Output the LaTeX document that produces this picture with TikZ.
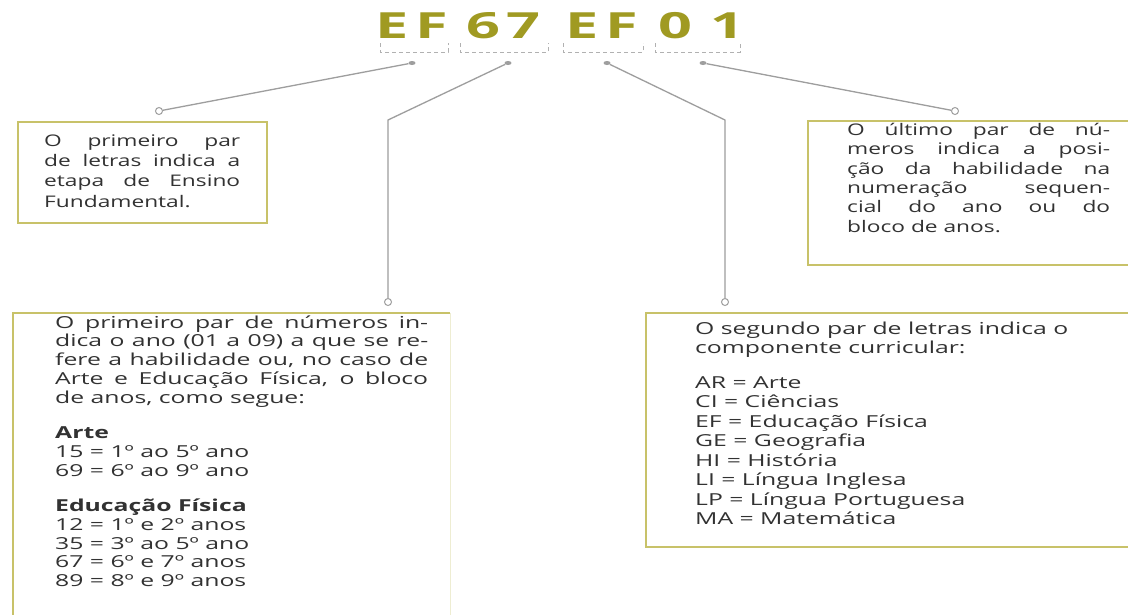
\documentclass[tikz,border=0pt]{standalone}
\usepackage{fontspec}
\usetikzlibrary{shapes.geometric}
\setmainfont{Open Sans}
\newfontfamily\topfont[FakeStretch=1.42]{Open Sans}
\newfontfamily\botfont[FakeStretch=1.5]{Open Sans}
\newfontfamily\titlefont[FakeStretch=1.65]{Open Sans}
\definecolor{titlec}{RGB}{160,154,34}
\definecolor{boxc}{RGB}{200,194,105}
\definecolor{connc}{RGB}{158,158,158}
\definecolor{textc}{RGB}{50,50,50}
\newcommand{\jline}[2]{\makebox[#1][s]{#2}}
\newcommand{\topstrut}{\rule{0pt}{14pt}}
\begin{document}
\begin{tikzpicture}[x=1pt,y=-1pt,
  box/.style={draw=boxc, line width=1.8pt, fill=white},
  conn/.style={draw=connc, line width=1.3pt},
  brk/.style={draw=connc!80, line width=1pt, dash pattern=on 4pt off 3pt},
  endc/.style={circle, draw=connc, fill=white, line width=1pt, inner sep=0pt, minimum size=7pt},
  dotc/.style={ellipse, fill=connc, inner sep=0pt, minimum width=7pt, minimum height=4pt},
  txt/.style={anchor=north west, inner sep=0pt, align=left, text=textc},
  titlech/.style={anchor=base, inner sep=0pt, text=titlec, font=\titlefont\bfseries\fontsize{36}{40}\selectfont}]
\useasboundingbox (0,0) rectangle (1128,614);
\fill[white] (0,0) rectangle (1128,614);
% boxes
\path[box] (18,122) rectangle (267,223);
\path[box] (808,121) rectangle (1132,265);
\path[fill=white] (13,313) rectangle (450,625);
\draw[boxc, line width=1.8pt] (13,625) -- (13,313) -- (450,313);
\draw[boxc!30, line width=1pt] (450,313) -- (450,625);
\path[box] (646,313) rectangle (1132,547);
% title
\foreach \ch/\xx in {E/392,F/432,6/483,7/523,E/582,F/622,0/675,1/727}
  \node[titlech] (t\xx) at (\xx,38) {\ch};
\draw[brk] (380,43) -- (380,52) -- (448,52) -- (448,43);
\draw[brk] (460,43) -- (460,52) -- (548,52) -- (548,43);
\draw[brk] (563,43) -- (563,52) -- (643,52) -- (643,43);
\draw[brk] (655,43) -- (655,52) -- (740,52) -- (740,43);
% connector dots and ends
\node[dotc] (d1) at (412,63) {};
\node[dotc] (d2) at (508,63) {};
\node[dotc] (d3) at (607,63) {};
\node[dotc] (d4) at (703,63) {};
\coordinate (b2) at (388,120);
\coordinate (b3) at (725,120);
\node[endc] (e1) at (159,111) {};
\node[endc] (e2) at (388,302) {};
\node[endc] (e3) at (725,302) {};
\node[endc] (e4) at (955,111) {};
\draw[conn] (d1) -- (e1);
\draw[conn] (d2) -- (b2) -- (e2);
\draw[conn] (d3) -- (b3) -- (e3);
\draw[conn] (d4) -- (e4);
% texts (first baseline = anchor y + 14)
\node[txt, font=\topfont\fontsize{16}{20.3}\selectfont] (tl) at (44,132) {%
\topstrut\jline{196pt}{O primeiro par}\\
\jline{196pt}{de letras indica a}\\
\jline{196pt}{etapa de Ensino}\\
Fundamental.};
\node[txt, font=\topfont\fontsize{16}{19.4}\selectfont] (tr) at (847,121) {%
\topstrut\jline{263pt}{O último par de nú-}\\
\jline{263pt}{meros indica a posi-}\\
\jline{263pt}{ção da habilidade na}\\
\jline{263pt}{numeração sequen-}\\
\jline{263pt}{cial do ano ou do}\\
bloco de anos.};
\node[txt, font=\botfont\fontsize{16.5}{18.7}\selectfont] (bl) at (55,314) {%
\topstrut\jline{373pt}{O primeiro par de números in-}\\
\jline{373pt}{dica o ano (01 a 09) a que se re-}\\
\jline{373pt}{fere a habilidade ou, no caso de}\\
\jline{373pt}{Arte e Educação Física, o bloco}\\
de anos, como segue:\\[17pt]
{\bfseries Arte}\\
15 = 1º ao 5º ano\\
69 = 6º ao 9º ano\\[17pt]
{\bfseries Educação Física}\\
12 = 1º e 2º anos\\
35 = 3º ao 5º ano\\
67 = 6º e 7º anos\\
89 = 8º e 9º anos};
\node[txt, font=\botfont\fontsize{16.5}{19.5}\selectfont] (br) at (695,320) {%
\topstrut O segundo par de letras indica o\\
componente curricular:\\[15pt]
AR = Arte\\
CI = Ciências\\
EF = Educação Física\\
GE = Geografia\\
HI = História\\
LI = Língua Inglesa\\
LP = Língua Portuguesa\\
MA = Matemática};
\end{tikzpicture}
\end{document}
